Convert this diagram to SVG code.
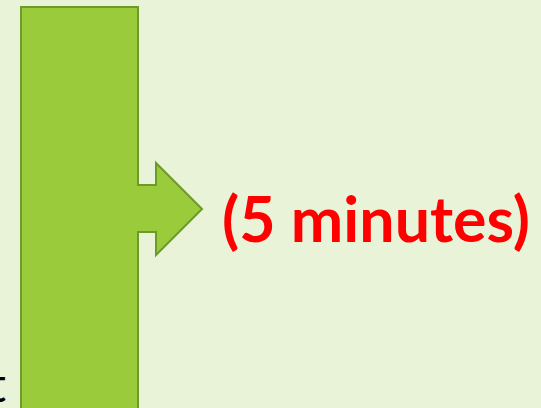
<svg xmlns="http://www.w3.org/2000/svg" width="541" height="408" viewBox="0 0 541 408">
<style>
.shape{fill:#9ACB3A;stroke:#6E9A28;stroke-width:2}
.lbl{font-family:Lato,"Open Sans",sans-serif;font-weight:bold;fill:#FF0000}
</style>
<rect width="541" height="408" fill="#E9F3D8"/>
<g id="bar">
<path class="shape" d="M21,7 H138 V185 H156 V163 L202,209 L156,255 V232 H138 V420 H21 Z"/>
</g>
<g id="label">
<text class="lbl" x="222" y="242" font-size="63" textLength="308" lengthAdjust="spacingAndGlyphs">(5 minutes)</text>
</g>
<g id="edge-text">
<text x="6" y="402" font-family="Lato,sans-serif" font-size="48" fill="#000" text-anchor="end">t</text>
</g>
<g id="connectors"/>
</svg>
